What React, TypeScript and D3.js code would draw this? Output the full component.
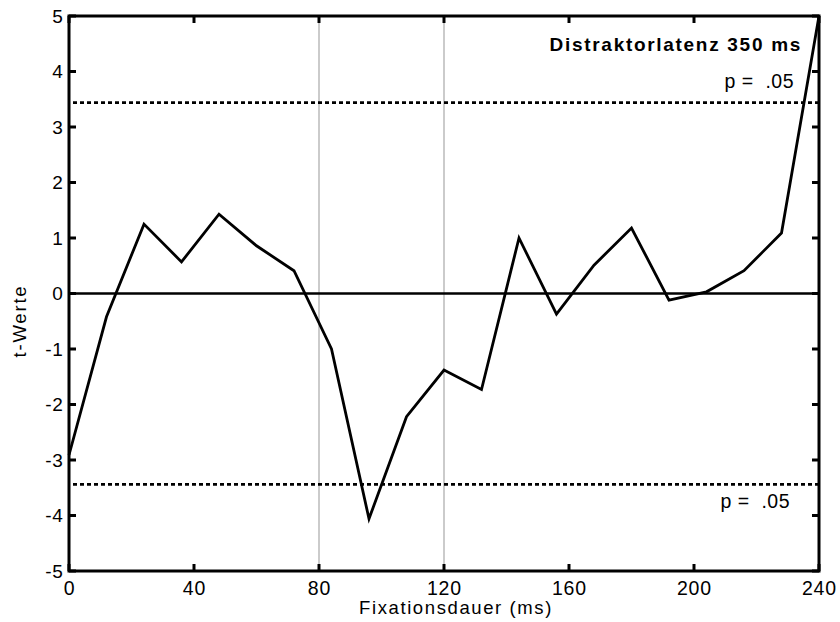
import React, { useEffect, useRef } from "react";
import * as d3 from "d3";

const fixation = [0, 12, 24, 36, 48, 60, 72, 84, 96, 108, 120, 132, 144, 156, 168, 180, 192, 204, 216, 228, 240];
const tValues = [-2.91, -0.42, 1.25, 0.57, 1.43, 0.86, 0.41, -1.0, -4.06, -2.22, -1.38, -1.73, 1.0, -0.37, 0.51, 1.18, -0.12, 0.03, 0.41, 1.09, 5.0];
const xTicks = [0, 40, 80, 120, 160, 200, 240];
const yTicks = [-5, -4, -3, -2, -1, 0, 1, 2, 3, 4, 5];
const markers = [80, 120];
const pCrit = 3.44;

const App = () => {
  const svgRef = useRef<SVGSVGElement>(null);

  useEffect(() => {
    const width = 840;
    const height = 622;
    const margin = { top: 16, right: 21, bottom: 51, left: 69 };
    const font = "Arial, 'Liberation Sans', sans-serif";

    const svg = d3.select(svgRef.current).attr("width", width).attr("height", height);
    svg.selectAll("*").remove();

    const x = d3.scaleLinear().domain([0, 240]).range([margin.left, width - margin.right]);
    const y = d3.scaleLinear().domain([-5, 5]).range([height - margin.bottom, margin.top]);

    // gray vertical markers
    svg
      .selectAll(".marker")
      .data(markers)
      .enter()
      .append("line")
      .attr("x1", (d) => x(d))
      .attr("x2", (d) => x(d))
      .attr("y1", y(5))
      .attr("y2", y(-5))
      .attr("stroke", "#a8a8a8")
      .attr("stroke-width", 1.2);

    // zero line
    svg
      .append("line")
      .attr("x1", x(0))
      .attr("x2", x(240))
      .attr("y1", y(0))
      .attr("y2", y(0))
      .attr("stroke", "#000")
      .attr("stroke-width", 2.4);

    // significance thresholds
    svg
      .selectAll(".crit")
      .data([pCrit, -pCrit])
      .enter()
      .append("line")
      .attr("x1", x(0) + 4)
      .attr("x2", x(240))
      .attr("y1", (d) => y(d))
      .attr("y2", (d) => y(d))
      .attr("stroke", "#000")
      .attr("stroke-width", 2.7)
      .attr("stroke-dasharray", "4,3");

    // data line
    const line = d3
      .line<number>()
      .x((_, i) => x(fixation[i]))
      .y((d) => y(d));

    svg
      .append("path")
      .datum(tValues)
      .attr("d", line)
      .attr("fill", "none")
      .attr("stroke", "#000")
      .attr("stroke-width", 2.8)
      .attr("stroke-linejoin", "miter");

    // frame with inward ticks
    const tickLen = 7;
    const frame = svg.append("g").attr("stroke", "#000").attr("stroke-width", 3);
    frame
      .append("rect")
      .attr("x", x(0))
      .attr("y", y(5))
      .attr("width", x(240) - x(0))
      .attr("height", y(-5) - y(5))
      .attr("fill", "none");

    xTicks.forEach((t) => {
      frame.append("line").attr("x1", x(t)).attr("x2", x(t)).attr("y1", y(-5)).attr("y2", y(-5) - tickLen);
      frame.append("line").attr("x1", x(t)).attr("x2", x(t)).attr("y1", y(5)).attr("y2", y(5) + tickLen);
    });
    yTicks.forEach((t) => {
      frame.append("line").attr("x1", x(0)).attr("x2", x(0) + tickLen).attr("y1", y(t)).attr("y2", y(t));
      frame.append("line").attr("x1", x(240)).attr("x2", x(240) - tickLen).attr("y1", y(t)).attr("y2", y(t));
    });

    // tick labels
    svg
      .selectAll(".xlab")
      .data(xTicks)
      .enter()
      .append("text")
      .attr("x", (d) => x(d) + 0.4)
      .attr("y", 595)
      .attr("text-anchor", "middle")
      .attr("font-family", font)
      .attr("font-size", 19.5)
      .attr("letter-spacing", 0.7)
      .text((d) => d);

    svg
      .selectAll(".ylab")
      .data(yTicks)
      .enter()
      .append("text")
      .attr("x", x(0) - 5.5)
      .attr("y", (d) => y(d) + 6.8)
      .attr("text-anchor", "end")
      .attr("font-family", font)
      .attr("font-size", 19)
      .attr("letter-spacing", 0.7)
      .text((d) => d);

    // axis titles
    svg
      .append("text")
      .attr("x", 456)
      .attr("y", 614)
      .attr("text-anchor", "middle")
      .attr("font-family", font)
      .attr("font-size", 18.5)
      .attr("letter-spacing", 1.6)
      .text("Fixationsdauer (ms)");

    svg
      .append("text")
      .attr("transform", `translate(26, 321) rotate(-90)`)
      .attr("text-anchor", "middle")
      .attr("font-family", font)
      .attr("font-size", 18.5)
      .attr("letter-spacing", 1.8)
      .text("t-Werte");

    // annotations
    svg
      .append("text")
      .attr("x", 802)
      .attr("y", 51)
      .attr("text-anchor", "end")
      .attr("font-family", font)
      .attr("font-size", 19)
      .attr("font-weight", "bold")
      .attr("letter-spacing", 1.7)
      .text("Distraktorlatenz 350 ms");

    svg
      .append("text")
      .attr("x", 794)
      .attr("y", 88)
      .attr("text-anchor", "end")
      .attr("font-family", font)
      .attr("font-size", 19.5)
      .attr("letter-spacing", 0.5)
      .style("white-space", "pre")
      .text("p =  .05");

    svg
      .append("text")
      .attr("x", 790)
      .attr("y", 508)
      .attr("text-anchor", "end")
      .attr("font-family", font)
      .attr("font-size", 19.5)
      .attr("letter-spacing", 0.5)
      .style("white-space", "pre")
      .text("p =  .05");
  }, []);

  return (
    <svg
      ref={svgRef}
      style={{ position: "absolute", left: 0, top: 0, background: "#fff", display: "block" }}
    ></svg>
  );
};

export default App;
